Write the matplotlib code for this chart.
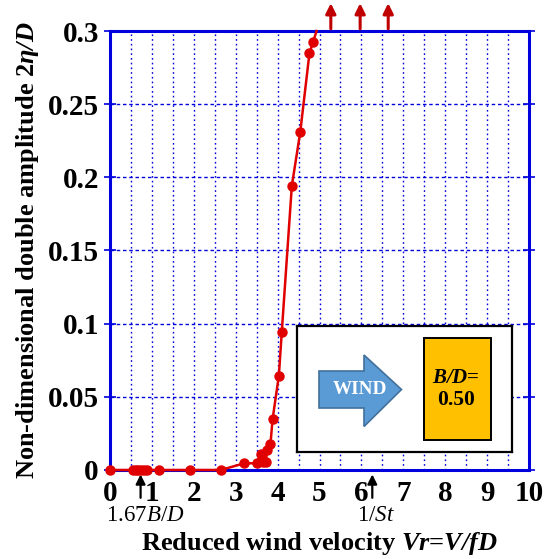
import matplotlib
matplotlib.use("Agg")
import matplotlib.pyplot as plt
from matplotlib.patches import Polygon, Rectangle

plt.rcParams['font.family'] = ['Liberation Serif', 'DejaVu Serif']
plt.rcParams['mathtext.fontset'] = 'custom'
plt.rcParams['mathtext.rm'] = 'Liberation Serif'
plt.rcParams['mathtext.it'] = 'Liberation Serif:italic'
plt.rcParams['mathtext.bf'] = 'Liberation Serif:bold'
plt.rcParams['mathtext.bfit'] = 'Liberation Serif:italic:bold'

# measured response (reduced wind velocity vs. 2eta/D)
vr = [0.0, 0.55, 0.62, 0.68, 0.75, 0.82, 0.88, 1.18, 1.92, 2.64, 3.21, 3.50,
      3.60, 3.66, 3.72, 3.75, 3.83, 3.88, 4.03, 4.10, 4.34, 4.54, 4.76, 4.85]
amp = [0.0, 0.0, 0.0, 0.0, 0.0, 0.0, 0.0, 0.0, 0.0, 0.0, 0.0046, 0.0046,
       0.011, 0.0057, 0.0057, 0.0137, 0.0178, 0.0346, 0.0645, 0.0945,
       0.1943, 0.2308, 0.2848, 0.2928]
# line leaves the frame here (divergent amplitude)
vr_end, amp_end = 4.93, 0.30

# runs where amplitude went off scale
off_scale_vr = [5.27, 5.97, 6.64]

# reference velocities marked under the axis
vr_galloping = 0.73   # 1.67B/D
vr_strouhal = 6.26    # 1/St

yticks = [0, 0.05, 0.1, 0.15, 0.2, 0.25, 0.3]
ytick_labels = ['0', '0.05', '0.1', '0.15', '0.2', '0.25', '0.3']
xticks = list(range(0, 11))

blue = '#0000dd'
red = '#e00000'

fig = plt.figure(figsize=(5.51, 5.59), dpi=100)
ax = fig.add_axes([110 / 551, 89 / 559, 419 / 551, 439 / 559])

ax.plot(vr + [vr_end], amp + [amp_end], color=red, lw=1.8, clip_on=False,
        zorder=3)
ax.plot(vr, amp, 'o', color=red, ms=6.5, clip_on=False, zorder=4)

ax.set_xlim(0, 10)
ax.set_ylim(0, 0.3)
ax.set_xticks(xticks)
ax.set_xticks([x + 0.5 for x in range(10)], minor=True)
ax.set_yticks(yticks)
ax.set_yticklabels(ytick_labels)
ax.grid(True, which='both', axis='x', color=blue, ls=(0, (1.2, 2.2)), lw=1.0)
ax.grid(True, which='major', axis='y', color=blue, ls=(0, (2.5, 2)), lw=1.0)
for s in ax.spines.values():
    s.set_color(blue)
    s.set_linewidth(2.2)
ax.tick_params(axis='x', which='both', length=0, pad=7, labelsize=21)
ax.tick_params(axis='y', direction='inout', length=8, width=1.2, color=blue,
               right=True, pad=4, labelsize=21)
for lab in ax.get_xticklabels() + ax.get_yticklabels():
    lab.set_fontweight('bold')

ax.set_xlabel(r'Reduced wind velocity $\mathbfit{Vr}$=$\mathbfit{V/fD}$',
              fontsize=19, fontweight='bold', va='center')
ax.xaxis.set_label_coords(0.5, -0.167)
ax.set_ylabel(r'Non-dimensional double amplitude 2$\mathbfit{\eta/D}$',
              fontsize=19, fontweight='bold')
ax.yaxis.set_label_coords(-0.165, 0.5)

# off-scale arrows above the frame
for x in off_scale_vr:
    ax.annotate('', xy=(x, 0.319), xytext=(x, 0.3015), annotation_clip=False,
                arrowprops=dict(arrowstyle='-|>', color='#c00000', lw=2.2,
                                mutation_scale=15, shrinkA=0, shrinkB=0))

# reference velocity markers
for x, lab in [(vr_galloping, r'1.67$\mathit{B/D}$'),
               (vr_strouhal, r'1/$\mathit{St}$')]:
    ax.annotate('', xy=(x, -0.003), xytext=(x, -0.019), annotation_clip=False,
                arrowprops=dict(arrowstyle='-|>', color='black', lw=1.6,
                                mutation_scale=14, shrinkA=0, shrinkB=0))
    ax.text(x + 0.1, -0.031, lab, fontsize=16.5, ha='center', va='center',
            clip_on=False)

# inset: cross-section sketch (pixel units)
ins = fig.add_axes([297 / 551, 107 / 559, 215 / 551, 126 / 559])
ins.set_xlim(297, 512)
ins.set_ylim(452, 326)
ins.set_xticks([])
ins.set_yticks([])
for s in ins.spines.values():
    s.set_linewidth(1.6)
ins.add_patch(Polygon([(319, 371), (364, 371), (364, 355), (401.5, 389.5),
                       (364, 426.5), (364, 408), (319, 408)],
                      closed=True, fc='#5b9bd5', ec='#41719c', lw=1.2))
ins.text(360, 389, 'WIND', color='white', fontsize=13.8, fontweight='bold',
         ha='center', va='center')
ins.add_patch(Rectangle((424, 338), 66.5, 102, fc='#ffc000', ec='black',
                        lw=1.4))
ins.text(456, 378, r'$\mathbfit{B/D}$=', fontsize=15, fontweight='bold',
         ha='center', va='center')
ins.text(456, 400, '0.50', fontsize=15.5, fontweight='bold', ha='center',
         va='center')

fig.savefig('out.png', dpi=100)
